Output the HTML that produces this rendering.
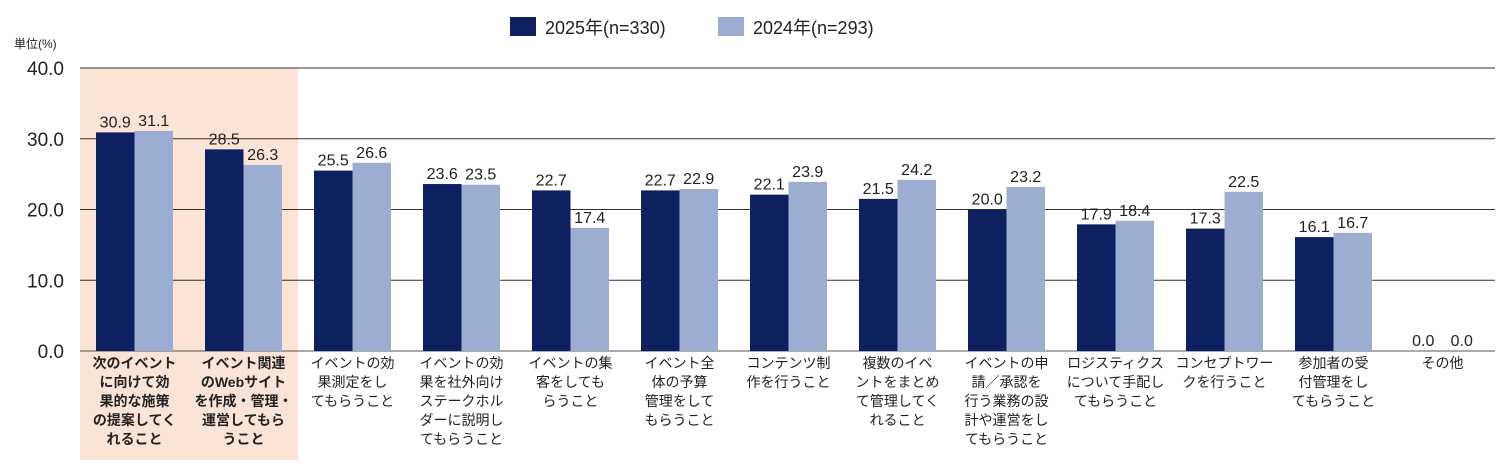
<!DOCTYPE html>
<html><head><meta charset="utf-8"><style>
body{margin:0;background:#fff;width:1504px;height:470px;overflow:hidden;font-family:"Liberation Sans","Noto Sans CJK JP",sans-serif}
svg text{font-family:"Liberation Sans","Noto Sans CJK JP",sans-serif}
</style></head><body>
<svg id="c" width="1504" height="470"></svg>
<script>
const categories=[["次のイベント","に向けて効","果的な施策","の提案してく","れること"],["イベント関連","のWebサイト","を作成・管理・","運営してもら","うこと"],["イベントの効","果測定をし","てもらうこと"],["イベントの効","果を社外向け","ステークホル","ダーに説明し","てもらうこと"],["イベントの集","客をしても","らうこと"],["イベント全","体の予算","管理をして","もらうこと"],["コンテンツ制","作を行うこと"],["複数のイベ","ントをまとめ","て管理してく","れること"],["イベントの申","請／承認を","行う業務の設","計や運営をし","てもらうこと"],["ロジスティクス","について手配し","てもらうこと"],["コンセプトワー","クを行うこと"],["参加者の受","付管理をし","てもらうこと"],["その他"]];
const series2025=[30.9,28.5,25.5,23.6,22.7,22.7,22.1,21.5,20.0,17.9,17.3,16.1,0.0];
const series2024=[31.1,26.3,26.6,23.5,17.4,22.9,23.9,24.2,23.2,18.4,22.5,16.7,0.0];
const yTicks=[0,10,20,30,40];
const highlighted=[0,1];
const NS="http://www.w3.org/2000/svg",svg=document.getElementById('c');
const x0=80,cw=109,yTop=68,yBot=351,yMax=40;
const y=v=>yBot-(v/yMax)*(yBot-yTop);
const cx=i=>x0+cw*i+cw/2;
function mk(t,a,p){const e=document.createElementNS(NS,t);for(const k in a)e.setAttribute(k,a[k]);(p||svg).appendChild(e);return e;}
highlighted.forEach(i=>{const r=mk('rect',{x:x0+cw*i,y:yTop,width:cw,height:460-yTop,fill:'#fbe3d6'});

});
yTicks.forEach(t=>{const l=mk('line',{x1:x0,x2:1495,y1:y(t),y2:y(t),stroke:t==0?'#555':'#333','stroke-width':1});


const tx=mk('text',{x:64,y:y(t)+7,'text-anchor':'end','font-size':19,fill:'#222'});tx.textContent=t.toFixed(1);

});
const u=mk('text',{x:14,y:48,'font-size':12,fill:'#222'});u.textContent='単位(%)';


const bw=38.5;
categories.forEach((c,i)=>{
 [[series2025[i],'#0d2160',-bw],[series2024[i],'#9badd0',0]].forEach(([v,col,off],k)=>{
  const b=mk('rect',{x:cx(i)+off,y:y(v),width:bw,height:yBot-y(v),fill:col});
  
  
  const t=mk('text',{x:cx(i)+off+bw/2,y:y(v)-5,'text-anchor':'middle','font-size':16,fill:'#222'});t.textContent=v.toFixed(1);
  
  
 });
 const g=mk('text',{'text-anchor':'middle','font-size':14,fill:'#222','font-weight':highlighted.includes(i)?'bold':'normal'});
 
 
 c.forEach((ln,j)=>{const s=mk('tspan',{x:cx(i),y:368+j*19},g);s.textContent=ln;});
});
[['#0d2160','2025年(n=330)',510],['#9badd0','2024年(n=293)',718]].forEach(([col,lab,lx])=>{
 const r=mk('rect',{x:lx,y:17,width:26,height:19,fill:col});
 
 
 const t=mk('text',{x:lx+35,y:34,'font-size':18,fill:'#222'});t.textContent=lab;
 
 
});
</script>
</body></html>
